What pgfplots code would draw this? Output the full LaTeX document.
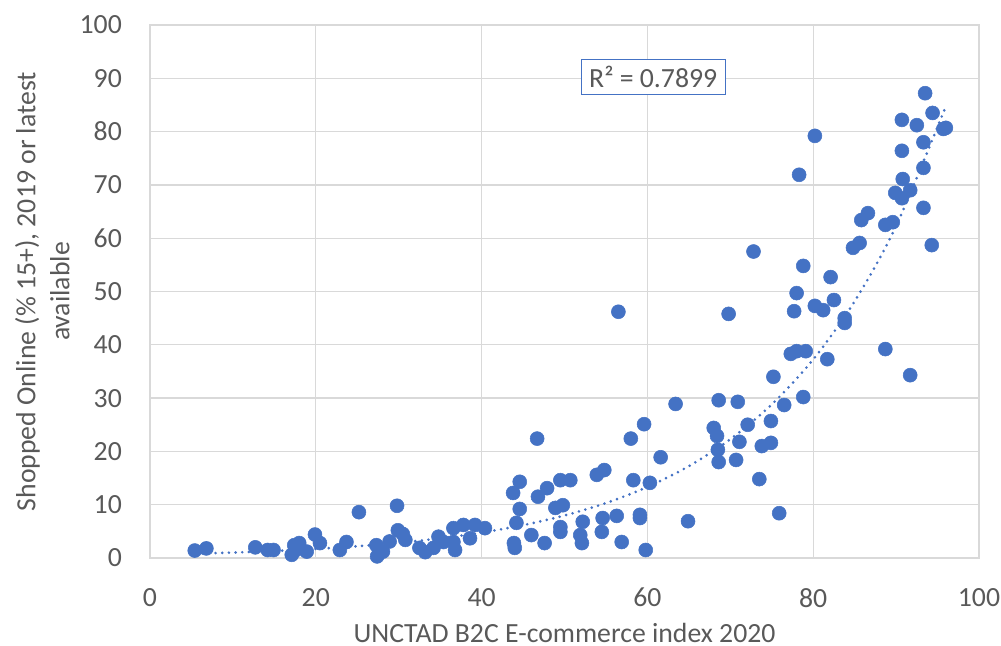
\documentclass[border=0pt]{standalone}
\usepackage{fontspec}
\setmainfont{Carlito}
\usepackage{pgfplots}
\pgfplotsset{compat=1.18}
\definecolor{ptblue}{HTML}{4472C4}
\definecolor{txtgray}{HTML}{595959}
\definecolor{gridgray}{HTML}{D9D9D9}
\begin{document}
\fontsize{20.8pt}{25pt}\selectfont
\begin{tikzpicture}
\path[use as bounding box] (-112.5pt,-66pt) rectangle (638.25pt,418.5pt);
\begin{axis}[
  at={(0pt,0pt)}, anchor=south west,
  scale only axis, width=621.75pt, height=399.75pt,
  xmin=0, xmax=100, ymin=0, ymax=100,
  xtick={0,20,...,100}, ytick={0,10,...,100},
  grid=major, major grid style={gridgray, line width=1pt},
  axis line style={gridgray, line width=1pt},
  major tick length=0pt,
  tick label style={font=\fontsize{20.8pt}{25pt}\selectfont, text=txtgray},
  /pgf/number format/assume math mode=true,
  xticklabel style={yshift=-15.5pt},
  yticklabel style={xshift=-14pt},
  xlabel={UNCTAD B2C E-commerce index 2020},
  xlabel style={font=\fontsize{20.8pt}{25pt}\selectfont, text=txtgray, inner sep=0pt, at={(axis description cs:0.5,-0.141)}, anchor=center},
  ylabel={Shopped Online (\% 15+), 2019 or latest\\available},
  ylabel style={font=\fontsize{20.8pt}{25.5pt}\selectfont, text=txtgray, align=center, at={(axis description cs:-0.130,0.5)}, anchor=center},
]
\addplot[ptblue, line width=2.2pt, dash pattern=on 0pt off 5pt, line cap=round, smooth] coordinates {
(5.5,0.809) (10,1.020) (15,1.319) (20,1.705) (25,2.205) (30,2.851) (35,3.687) (40,4.767) (45,6.164) (50,7.970) (55,10.31) (60,13.33) (65,17.23) (70,22.28) (75,28.81) (80,37.25) (85,48.17) (90,62.29) (96,84.74)
};
\addplot[only marks, mark=*, mark size=5.25pt, mark options={fill=ptblue, draw=ptblue}] table {
x y
5.4 1.4
6.8 1.8
12.7 2.0
14.2 1.5
14.9 1.5
17.1 0.6
17.4 2.4
18.0 2.8
17.6 1.5
18.9 1.2
19.9 4.4
20.5 2.8
22.9 1.5
23.7 3.0
25.2 8.6
27.3 2.4
27.4 0.3
28.1 1.2
28.9 3.1
29.8 9.8
29.9 5.2
30.8 3.4
30.5 4.5
32.5 1.9
33.2 1.1
34.2 1.9
34.8 4.0
35.4 3.0
36.6 3.0
36.8 1.5
36.6 5.6
37.8 6.2
38.6 3.7
39.2 6.2
40.4 5.6
43.8 12.2
44.6 14.3
44.6 9.2
44.2 6.6
43.9 2.8
44.0 1.9
46.0 4.3
46.7 22.4
46.8 11.5
47.9 13.1
47.6 2.8
48.9 9.4
49.5 14.6
49.8 9.9
49.5 5.8
49.5 4.9
50.7 14.6
51.9 4.3
52.1 2.8
52.2 6.8
53.9 15.6
54.8 16.5
54.5 4.9
54.6 7.5
56.3 7.9
56.5 46.2
56.9 3.0
58.0 22.4
58.3 14.6
59.1 8.1
59.1 7.5
59.6 25.1
59.8 1.5
60.3 14.1
61.6 18.9
63.4 28.9
64.9 6.9
68.6 29.6
70.9 29.3
69.8 45.8
72.8 57.5
68.0 24.4
68.4 22.9
68.5 20.3
68.6 18.0
70.7 18.4
71.1 21.8
72.1 25.0
73.5 14.8
73.8 21.0
74.9 21.6
74.9 25.7
75.2 34.0
75.9 8.4
76.5 28.7
77.3 38.3
78.0 38.8
79.1 38.8
77.7 46.3
78.0 49.7
78.8 54.8
78.3 71.9
78.8 30.2
80.2 79.2
80.2 47.3
81.2 46.5
81.7 37.3
82.1 52.7
82.5 48.4
83.8 45.0
83.8 44.1
84.8 58.2
85.6 59.1
85.8 63.4
86.6 64.7
88.7 62.5
89.6 63.0
88.7 39.2
89.9 68.5
90.7 67.5
91.7 69.0
90.8 71.1
90.7 76.4
90.7 82.2
91.7 34.3
92.5 81.2
93.3 78.0
93.3 73.2
93.3 65.7
93.5 87.2
94.4 83.5
94.3 58.7
95.7 80.5
96.0 80.7
};
\node[draw=ptblue, line width=1pt, fill=white, text=txtgray, inner xsep=6pt, inner ysep=5pt, font=\fontsize{20.8pt}{25pt}\selectfont] at (axis cs:60.7,90.2) {R² = 0.7899};
\end{axis}
\end{tikzpicture}
\end{document}
